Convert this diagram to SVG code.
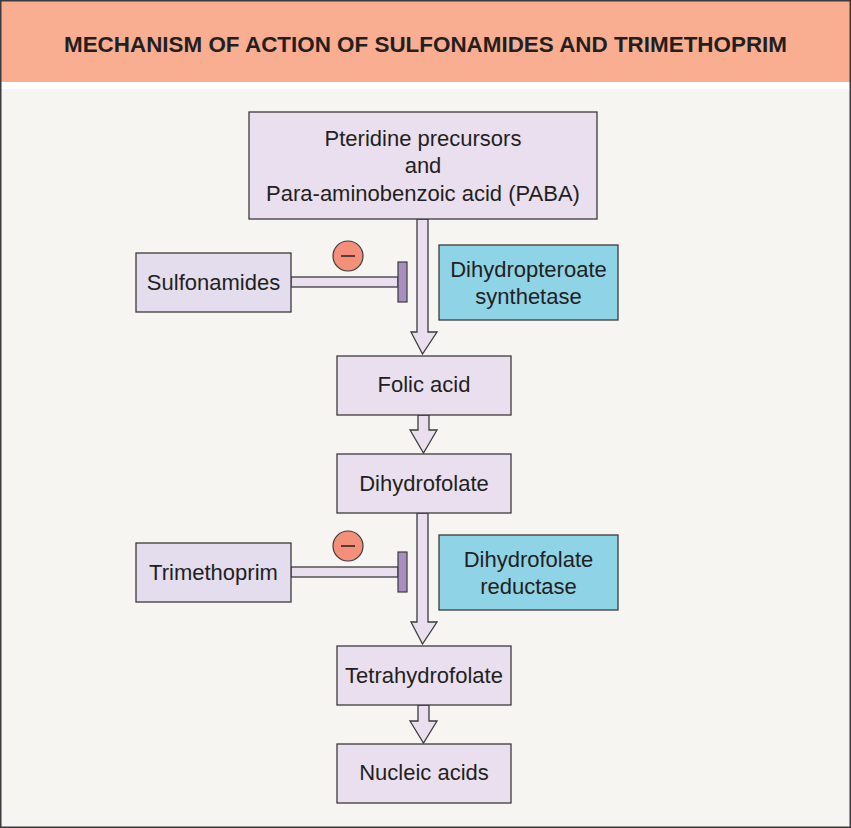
<svg xmlns="http://www.w3.org/2000/svg" width="851" height="828" viewBox="0 0 851 828">
<style>
.bg{fill:#F6F5F1}
.box{fill:#EADFEE;stroke:#3C3A3C;stroke-width:1.3}
.drug{fill:#E3DDEE;stroke:#3C3A3C;stroke-width:1.3}
.enz{fill:#8FD3E6;stroke:#3C3A3C;stroke-width:1.3}
.arr{fill:#EADFEE;stroke:#3C3A3C;stroke-width:1.3;stroke-linejoin:miter}
.bar{fill:#A88EC0;stroke:#3C3A3C;stroke-width:1.2}
.minus{fill:#F4907A;stroke:#3C3A3C;stroke-width:1.2}
text{font-family:"Liberation Sans",Arial,Helvetica,sans-serif;fill:#231F20;font-size:22px;text-anchor:middle}
.title{font-weight:bold;font-size:22px}
</style>
<rect x="0" y="0" width="851" height="828" class="bg"/>
<rect x="0" y="0" width="851" height="82" fill="#F9AE92"/>
<rect x="0" y="82" width="851" height="7" fill="#FFFFFF"/>
<rect x="0.75" y="0.75" width="849.5" height="826.5" fill="none" stroke="#3C3A3C" stroke-width="1.5"/>
<text class="title" x="425.5" y="52" textLength="723" lengthAdjust="spacingAndGlyphs">MECHANISM OF ACTION OF SULFONAMIDES AND TRIMETHOPRIM</text>

<g id="connectors">
<polygon class="arr" points="417,219 428,219 428,332 437,332 422.5,354 411,332 417,332"/>
<polygon class="arr" points="418,415 429,415 429,430 437,430 423.5,453 410,430 418,430"/>
<polygon class="arr" points="417,513 428,513 428,622 437,622 422.5,644 411,622 417,622"/>
<polygon class="arr" points="418,705 429,705 429,721 437,721 423.5,743 410,721 418,721"/>
<rect class="arr" x="291" y="277" width="107" height="10"/>
<rect class="bar" x="398" y="262" width="9" height="40"/>
<circle class="minus" cx="348" cy="256" r="15"/>
<line x1="341" y1="256" x2="355" y2="256" stroke="#231F20" stroke-width="1.5"/>
<rect class="arr" x="291" y="567" width="107" height="10"/>
<rect class="bar" x="398" y="552" width="9" height="40"/>
<circle class="minus" cx="348" cy="546" r="15"/>
<line x1="341" y1="546" x2="355" y2="546" stroke="#231F20" stroke-width="1.5"/>
</g>

<g id="precursors">
<rect class="box" x="249" y="112" width="348" height="107"/>
<text x="423" y="146">Pteridine precursors</text>
<text x="423" y="173">and</text>
<text x="423" y="201">Para-aminobenzoic acid (PABA)</text>
</g>
<g id="sulfonamides">
<rect class="drug" x="136" y="253" width="155" height="59"/>
<text x="213.5" y="290">Sulfonamides</text>
</g>
<g id="dhps">
<rect class="enz" x="439" y="245" width="179" height="75"/>
<text x="528.5" y="277">Dihydropteroate</text>
<text x="528.5" y="304">synthetase</text>
</g>
<g id="folic">
<rect class="box" x="337" y="356" width="174" height="59"/>
<text x="424" y="392">Folic acid</text>
</g>
<g id="dhf">
<rect class="box" x="337" y="454" width="174" height="59"/>
<text x="424" y="491">Dihydrofolate</text>
</g>
<g id="trimethoprim">
<rect class="drug" x="136" y="543" width="155" height="59"/>
<text x="213.5" y="580">Trimethoprim</text>
</g>
<g id="dhfr">
<rect class="enz" x="439" y="535" width="179" height="75"/>
<text x="528.5" y="567">Dihydrofolate</text>
<text x="528.5" y="594">reductase</text>
</g>
<g id="thf">
<rect class="box" x="337" y="646" width="174" height="59"/>
<text x="424" y="683">Tetrahydrofolate</text>
</g>
<g id="nucleic">
<rect class="box" x="337" y="744" width="174" height="59"/>
<text x="424" y="780">Nucleic acids</text>
</g>
</svg>
